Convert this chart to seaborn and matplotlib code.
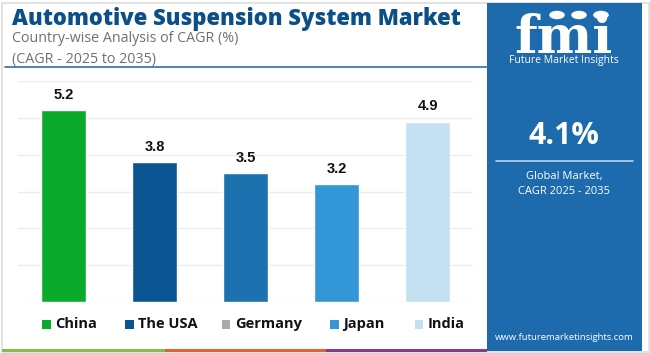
import matplotlib
matplotlib.use("Agg")
import matplotlib.pyplot as plt
import seaborn as sns
import pandas as pd
from matplotlib.patches import Rectangle
from matplotlib.lines import Line2D

categories = ["China", "The USA", "Germany", "Japan", "India"]
values = [5.2, 3.8, 3.5, 3.2, 4.9]
bar_colors = ["#0aab2c", "#0a5591", "#1b72ae", "#3396d6", "#c4e1f2"]
legend_colors = ["#0aab2c", "#0a5591", "#aaaaaa", "#3396d6", "#c4e1f2"]
title = "Automotive Suspension System Market"
subtitle1 = "Country-wise Analysis of CAGR (%)"
subtitle2 = "(CAGR - 2025 to 2035)"
global_cagr = "4.1%"
panel_text = "Global Market,\nCAGR 2025 - 2035"
url = "www.futuremarketinsights.com"

sns.set_theme(style="white")
plt.rcParams['font.family'] = ['Open Sans', 'DejaVu Sans']

W, H = 650, 353
fig = plt.figure(figsize=(W / 100, H / 100), dpi=100)
fig.patch.set_facecolor("white")

def fx(x):
    return x / W

def fy(y):
    return 1 - y / H

# outer border
fig.add_artist(Rectangle((fx(1.5), fy(351.5)), fx(647), 349 / H, transform=fig.transFigure,
                         fill=False, edgecolor="#dddddd", linewidth=1.2))

# right blue panel
fig.add_artist(Rectangle((fx(487), fy(351)), fx(155), 348 / H, transform=fig.transFigure,
                         facecolor="#1d6aad", edgecolor="none"))

# bottom stripes
for x0, x1, c in [(2, 165, "#8cb84c"), (165, 326, "#e0622e"), (326, 487, "#873c8a")]:
    fig.add_artist(Rectangle((fx(x0), fy(352)), fx(x1 - x0), 3.5 / H, transform=fig.transFigure,
                             facecolor=c, edgecolor="none"))

# header underline
fig.add_artist(Line2D([fx(5), fx(487)], [fy(67), fy(67)], transform=fig.transFigure,
                      color="#3b7cb6", linewidth=1.3))

# title and subtitles
fig.text(fx(12), fy(25), title, fontsize=15.8, fontweight="heavy", color="#0b4f88",
         va="baseline", ha="left")
fig.text(fx(12), fy(39), subtitle1, fontsize=10.3, color="#707070", va="center", ha="left")
fig.text(fx(12), fy(59), subtitle2, fontsize=10.3, color="#707070", va="center", ha="left")

# chart
ax = fig.add_axes([fx(18), fy(302), fx(455), (302 - 81) / H])
df = pd.DataFrame({"country": categories, "cagr": values})
sns.barplot(data=df, x="country", y="cagr", hue="country", palette=bar_colors,
            order=categories, hue_order=categories, width=0.5, legend=False, ax=ax,
            saturation=1)
ax.set_ylim(0, 6)
ax.set_xlim(-0.5, len(categories) - 0.5)
ax.set_yticks(range(0, 7))
ax.yaxis.grid(True, color="#ececec", linewidth=1)
ax.set_axisbelow(True)
ax.tick_params(left=False, bottom=False, labelleft=False, labelbottom=False)
ax.set_xlabel("")
ax.set_ylabel("")
for s in ax.spines.values():
    s.set_visible(False)
ax.patch.set_alpha(0)
for p, v in zip(ax.patches, values):
    ax.annotate(f"{v}", (p.get_x() + p.get_width() / 2, p.get_height()),
                xytext=(0, 6), textcoords="offset points", ha="center", va="bottom",
                fontsize=10.5, fontweight="bold", color="#111111", family="Liberation Sans")

# legend
leg_x = [42, 125, 222, 330, 415]
for x, lab, c in zip(leg_x, categories, legend_colors):
    fig.add_artist(Rectangle((fx(x), fy(328.5)), fx(8.5), 8.5 / H, transform=fig.transFigure,
                             facecolor=c, edgecolor="none"))
    fig.text(fx(x + 13), fy(324), lab, fontsize=10.5, fontweight="bold", color="#111111",
             va="center", ha="left")

# logo
pcx = 564
fig.text(fx(pcx), fy(53), "fmi", fontsize=38, fontweight="bold", color="white",
         family="DejaVu Serif", ha="center", va="baseline")
for yy in range(24, 55, 4):
    fig.add_artist(Line2D([fx(510), fx(620)], [fy(yy), fy(yy)], transform=fig.transFigure,
                          color="#1d6aad", linewidth=0.8))
for cx in [557, 579, 601]:
    fig.add_artist(plt.Circle((fx(cx), fy(15)), 0.012, transform=fig.transFigure,
                              facecolor="white", edgecolor="none"))
fig.text(fx(pcx), fy(63), "Future Market Insights", fontsize=7.5, color="white",
         ha="center", va="baseline")

fig.text(fx(pcx), fy(136), global_cagr, fontsize=22, fontweight="bold", color="white",
         ha="center", va="center")
fig.add_artist(Line2D([fx(496), fx(633)], [fy(161), fy(161)], transform=fig.transFigure,
                      color="#b7d4ec", linewidth=1.2))
fig.text(fx(pcx), fy(184), panel_text, fontsize=8, color="white", ha="center", va="center",
         linespacing=1.5)
fig.text(fx(pcx), fy(337), url, fontsize=6.8, color="white", ha="center", va="center")

fig.savefig("out.png", dpi=100, facecolor="white")
